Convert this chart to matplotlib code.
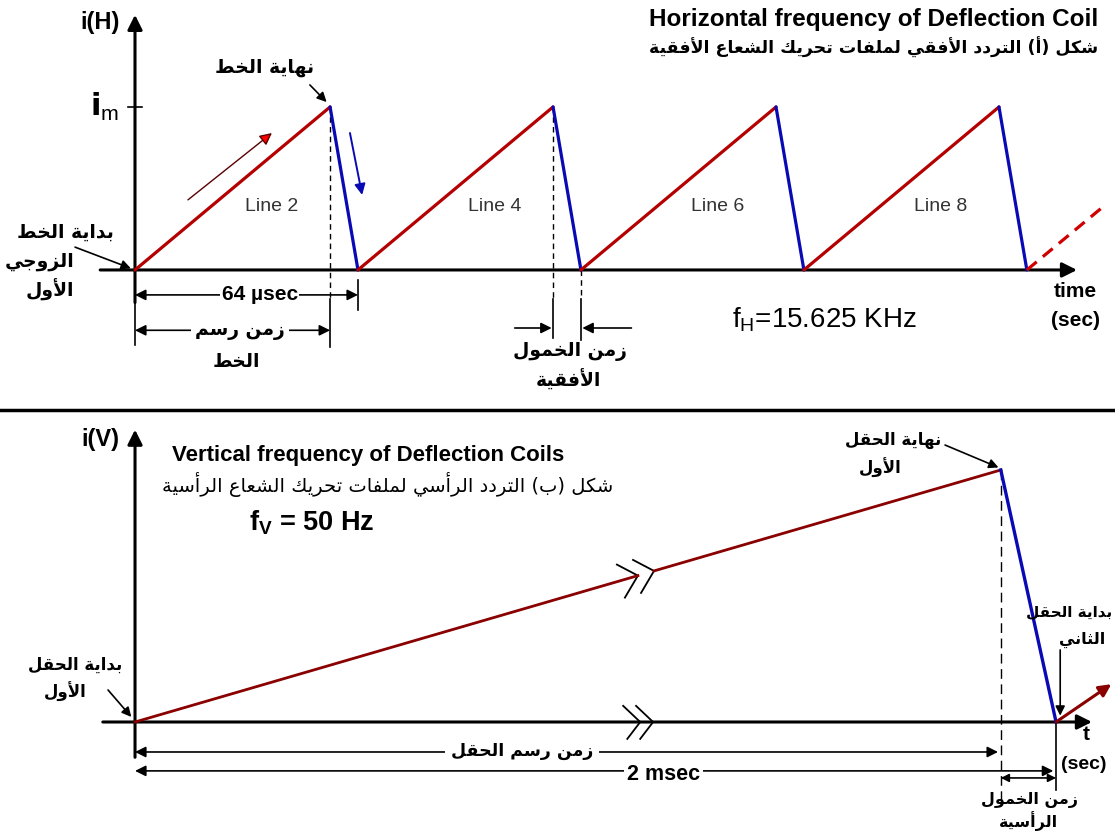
import numpy as np
import matplotlib
matplotlib.use("Agg")
import matplotlib.pyplot as plt
from matplotlib.lines import Line2D

plt.rcParams['font.family'] = ['Liberation Sans', 'DejaVu Sans']

# ---- data ----
# horizontal deflection current (time in usec, current in units of i_m)
line_t = [0, 56, 64, 120, 128, 184, 192, 248, 256]
line_i = [0, 1, 0, 1, 0, 1, 0, 1, 0]
next_line_t = [256, 278]
next_line_i = [0, 0.39]
line_names = ["Line 2", "Line 4", "Line 6", "Line 8"]
line_period = 64
line_trace = 56

# vertical deflection current (time in msec, current normalised)
field_t = [0, 18.8, 20]
field_i = [0, 1, 0]
next_field_t = [20, 21.2]
next_field_i = [0, 0.15]
break_t = [10.92, 11.27]

RED = '#b40000'
DARK_RED = '#8a0000'
BLUE = '#0a0ab4'
AR = ['DejaVu Sans']

# simple arabic shaping (presentation forms) + right-to-left ordering
FORMS = {
    'ا': ('\ufe8d', '\ufe8e', None, None), 'أ': ('\ufe83', '\ufe84', None, None),
    'ب': ('\ufe8f', '\ufe90', '\ufe91', '\ufe92'), 'ة': ('\ufe93', '\ufe94', None, None),
    'ت': ('\ufe95', '\ufe96', '\ufe97', '\ufe98'), 'ث': ('\ufe99', '\ufe9a', '\ufe9b', '\ufe9c'),
    'ج': ('\ufe9d', '\ufe9e', '\ufe9f', '\ufea0'), 'ح': ('\ufea1', '\ufea2', '\ufea3', '\ufea4'),
    'خ': ('\ufea5', '\ufea6', '\ufea7', '\ufea8'), 'د': ('\ufea9', '\ufeaa', None, None),
    'ر': ('\ufead', '\ufeae', None, None), 'ز': ('\ufeaf', '\ufeb0', None, None),
    'س': ('\ufeb1', '\ufeb2', '\ufeb3', '\ufeb4'), 'ش': ('\ufeb5', '\ufeb6', '\ufeb7', '\ufeb8'),
    'ط': ('\ufec1', '\ufec2', '\ufec3', '\ufec4'), 'ع': ('\ufec9', '\ufeca', '\ufecb', '\ufecc'),
    'ف': ('\ufed1', '\ufed2', '\ufed3', '\ufed4'), 'ق': ('\ufed5', '\ufed6', '\ufed7', '\ufed8'),
    'ك': ('\ufed9', '\ufeda', '\ufedb', '\ufedc'), 'ل': ('\ufedd', '\ufede', '\ufedf', '\ufee0'),
    'م': ('\ufee1', '\ufee2', '\ufee3', '\ufee4'), 'ن': ('\ufee5', '\ufee6', '\ufee7', '\ufee8'),
    'ه': ('\ufee9', '\ufeea', '\ufeeb', '\ufeec'), 'و': ('\ufeed', '\ufeee', None, None),
    'ي': ('\ufef1', '\ufef2', '\ufef3', '\ufef4'),
}
LAM_ALEF = {'ا': ('\ufefb', '\ufefc'), 'أ': ('\ufef7', '\ufef8')}


def joins_next(c):
    f = FORMS.get(c)
    return f is not None and f[2] is not None


def ar(txt):
    out = []
    i = 0
    n = len(txt)
    while i < n:
        c = txt[i]
        if c not in FORMS:
            out.append(c)
            i += 1
            continue
        link_prev = i > 0 and joins_next(txt[i - 1])
        if c == 'ل' and i + 1 < n and txt[i + 1] in LAM_ALEF:
            iso, fin = LAM_ALEF[txt[i + 1]]
            out.append(fin if link_prev else iso)
            i += 2
            continue
        link_next = joins_next(c) and i + 1 < n and txt[i + 1] in FORMS
        iso, fin, ini, med = FORMS[c]
        if link_prev and link_next:
            out.append(med)
        elif link_prev:
            out.append(fin)
        elif link_next:
            out.append(ini)
        else:
            out.append(iso)
        i += 1
    return ''.join(out)[::-1].translate(str.maketrans('()', ')('))


def arrow(ax, start, end, style='-|>', lw=1.2, color='black', ms=14):
    ax.annotate('', xy=end, xytext=start,
                arrowprops=dict(arrowstyle=style, lw=lw, color=color,
                                mutation_scale=ms, shrinkA=0, shrinkB=0))


fig = plt.figure(figsize=(11.15, 8.32), dpi=100)
ax1 = fig.add_axes([0, 422 / 832, 1, 410 / 832])
ax2 = fig.add_axes([0, 0, 1, 422 / 832])
for ax in (ax1, ax2):
    ax.axis('off')
ax1.set_xlim(-38.75, 281.3)
ax1.set_ylim(-0.859, 1.656)
ax2.set_xlim(-2.932, 21.28)
ax2.set_ylim(-0.4365, 1.238)

# separator between the two drawings
fig.add_artist(Line2D([0, 1], [422 / 832, 422 / 832], color='black', lw=2.5))

# ================= horizontal (line) deflection =================
arrow(ax1, (-10, 0), (270.4, 0), lw=2.2, ms=22)
arrow(ax1, (0, -0.2), (0, 1.565), lw=2.2, ms=22)
ax1.plot([0, 0], [-0.2, -0.46], color='black', lw=1.2)
ax1.plot([-2, 2], [1, 1], color='black', lw=1.2)

for k in range(len(line_t) - 1):
    up = line_i[k + 1] > line_i[k]
    ax1.plot(line_t[k:k + 2], line_i[k:k + 2], color=RED if up else BLUE,
             lw=2.3, solid_capstyle='round', zorder=3)
ax1.plot(next_line_t, next_line_i, color='#d00000', lw=2.3, ls=(0, (4, 2.5)), zorder=3)

for n, name in enumerate(line_names):
    ax1.text(line_t[2 * n] + 0.7 * line_trace, 0.39, name, ha='center', va='center',
             fontsize=14, color='#333333')

# dashed projection lines and dimension ticks
ax1.plot([line_trace, line_trace], [1, -0.18], color='black', lw=1, ls=(0, (4, 3)))
ax1.plot([line_trace, line_trace], [-0.18, -0.47], color='black', lw=1.2)
ax1.plot([line_period, line_period], [-0.06, -0.245], color='black', lw=1.2)
ax1.plot([line_t[3], line_t[3]], [1, -0.17], color='black', lw=1, ls=(0, (4, 3)))
ax1.plot([line_t[3], line_t[3]], [-0.18, -0.42], color='black', lw=1.2)
ax1.plot([line_t[4], line_t[4]], [0, -0.17], color='black', lw=1, ls=(0, (4, 3)))
ax1.plot([line_t[4], line_t[4]], [-0.18, -0.43], color='black', lw=1.2)

arrow(ax1, (0, -0.153), (line_period, -0.153), style='<|-|>', ms=16)
ax1.text(line_period * 0.56, -0.153, '64 µsec', ha='center', va='center', fontsize=15,
         fontweight='bold', bbox=dict(fc='white', ec='none', pad=1))
arrow(ax1, (0, -0.37), (line_trace, -0.37), style='<|-|>', ms=16)
ax1.text(30, -0.37, ar('زمن رسم'), ha='center', va='center', fontsize=13.5,
         fontweight='bold', family=AR, bbox=dict(fc='white', ec='none', pad=3))
ax1.text(29, -0.56, ar('الخط'), ha='center', va='center', fontsize=13.5,
         fontweight='bold', family=AR)

arrow(ax1, (109, -0.356), (line_t[3] - 0.4, -0.356), ms=16)
arrow(ax1, (142.5, -0.356), (line_t[4] + 0.4, -0.356), ms=16)
ax1.text(124.9, -0.50, ar('زمن الخمول'), ha='center', va='center', fontsize=13.5,
         fontweight='bold', family=AR)
ax1.text(124.3, -0.675, ar('الأفقية'), ha='center', va='center', fontsize=13.5,
         fontweight='bold', family=AR)

ax1.text(171.5, -0.307, r'f$_\mathregular{H}$=15.625 KHz', ha='left', va='center', fontsize=20)
ax1.text(270.0, -0.135, 'time', ha='center', va='center', fontsize=15, fontweight='bold')
ax1.text(270.0, -0.31, '(sec)', ha='center', va='center', fontsize=15, fontweight='bold')

ax1.text(-4.5, 1.52, 'i(H)', ha='right', va='center', fontsize=17, fontweight='bold')
ax1.text(-4.5, 1.0, r'$\mathbf{i}_\mathregular{m}$', ha='right', va='center', fontsize=22)

# direction arrows along trace and retrace
ax1.annotate('', xy=(39.3, 0.84), xytext=(15.2, 0.43),
             arrowprops=dict(arrowstyle='-|>', lw=1, color='#5a0000', fc='red',
                             mutation_scale=18, shrinkA=0, shrinkB=0))
ax1.annotate('', xy=(65.2, 0.46), xytext=(61.7, 0.84),
             arrowprops=dict(arrowstyle='-|>', lw=1.4, color=BLUE, fc=BLUE,
                             mutation_scale=16, shrinkA=0, shrinkB=0))

ax1.text(37.3, 1.24, ar('نهاية الخط'), ha='center', va='center', fontsize=13.5,
         fontweight='bold', family=AR)
arrow(ax1, (50.2, 1.135), (55, 1.03), ms=14)

ax1.text(-20.1, 0.233, ar('بداية الخط'), ha='center', va='center', fontsize=13.5,
         fontweight='bold', family=AR)
ax1.text(-27.3, 0.05, ar('الزوجي'), ha='center', va='center', fontsize=13.5,
         fontweight='bold', family=AR)
ax1.text(-24.4, -0.123, ar('الأول'), ha='center', va='center', fontsize=13.5,
         fontweight='bold', family=AR)
arrow(ax1, (-17.2, 0.14), (-1.2, 0.01), ms=14)

ax1.text(212, 1.534, 'Horizontal frequency of Deflection Coil', ha='center', va='center',
         fontsize=17.5, fontweight='bold')
ax1.text(212, 1.368, ar('شكل (أ) التردد الأفقي لملفات تحريك الشعاع الأفقية'),
         ha='center', va='center', fontsize=12.5, fontweight='bold', family=AR)

# ================= vertical (field) deflection =================
arrow(ax2, (-0.7, 0), (20.78, 0), lw=2.2, ms=22)
arrow(ax2, (0, -0.14), (0, 1.16), lw=2.2, ms=22)

b0 = np.interp(break_t[0], field_t[:2], field_i[:2])
b1 = np.interp(break_t[1], field_t[:2], field_i[:2])
ax2.plot([field_t[0], break_t[0]], [field_i[0], b0], color=DARK_RED, lw=2.0, zorder=3)
ax2.plot([break_t[1], field_t[1]], [b1, field_i[1]], color=DARK_RED, lw=2.0, zorder=3)
ax2.plot(field_t[1:], field_i[1:], color=BLUE, lw=2.4, zorder=3)
ax2.annotate('', xy=(next_field_t[1], next_field_i[1]), xytext=(next_field_t[0], next_field_i[0]),
             arrowprops=dict(arrowstyle='-|>', lw=2.2, color=DARK_RED,
                             mutation_scale=18, shrinkA=0, shrinkB=0))

# break marks on the ramp and on the time axis
for bt, bi in zip(break_t, (b0, b1)):
    ax2.plot([bt - 0.456, bt, bt - 0.282], [bi + 0.0437, bi, bi - 0.0873], color='black', lw=1.3)
for bt in (10.97, 11.25):
    ax2.plot([bt - 0.37, bt, bt - 0.28], [0.064, 0, -0.067], color='black', lw=1.3)

ax2.plot([field_t[1], field_t[1]], [1, -0.31], color='black', lw=1, ls=(0, (7, 4)))
ax2.plot([field_t[2], field_t[2]], [0, -0.27], color='black', lw=1.2)
ax2.plot([0, 0], [0, -0.14], color='black', lw=1.2)

arrow(ax2, (0, -0.119), (field_t[1] - 0.06, -0.119), style='<|-|>', ms=16)
ax2.text(8.4, -0.115, ar('زمن رسم الحقل'), ha='center', va='center', fontsize=12.5,
         fontweight='bold', family=AR, bbox=dict(fc='white', ec='none', pad=4))
arrow(ax2, (0, -0.194), (field_t[2] - 0.06, -0.194), style='<|-|>', ms=16)
ax2.text(11.47, -0.21, '2 msec', ha='center', va='center', fontsize=15.5, fontweight='bold',
         bbox=dict(fc='white', ec='none', pad=2))
arrow(ax2, (field_t[1], -0.222), (field_t[2], -0.222), style='<|-|>', ms=12)
ax2.text(19.43, -0.31, ar('زمن الخمول'), ha='center', va='center', fontsize=11.5,
         fontweight='bold', family=AR)
ax2.text(19.4, -0.392, ar('الرأسية'), ha='center', va='center', fontsize=11.5,
         fontweight='bold', family=AR)

ax2.text(20.65, -0.05, 't', ha='center', va='center', fontsize=15, fontweight='bold')
ax2.text(20.6, -0.17, '(sec)', ha='center', va='center', fontsize=14, fontweight='bold')
ax2.text(-0.33, 1.119, 'i(V)', ha='right', va='center', fontsize=17, fontweight='bold')

ax2.text(16.46, 1.119, ar('نهاية الحقل'), ha='center', va='center', fontsize=12,
         fontweight='bold', family=AR)
ax2.text(16.18, 1.008, ar('الأول'), ha='center', va='center', fontsize=12,
         fontweight='bold', family=AR)
arrow(ax2, (17.59, 1.099), (18.75, 1.01), ms=14)

ax2.text(21.22, 0.437, ar('بداية الحقل'), ha='right', va='center', fontsize=11,
         fontweight='bold', family=AR)
ax2.text(20.57, 0.325, ar('الثاني'), ha='center', va='center', fontsize=11.5,
         fontweight='bold', family=AR)
arrow(ax2, (20.09, 0.286), (20.09, 0.025), ms=14)

ax2.text(-1.3, 0.226, ar('بداية الحقل'), ha='center', va='center', fontsize=12,
         fontweight='bold', family=AR)
ax2.text(-1.52, 0.119, ar('الأول'), ha='center', va='center', fontsize=12,
         fontweight='bold', family=AR)
arrow(ax2, (-0.586, 0.127), (-0.08, 0.02), ms=14)

ax2.text(5.06, 1.056, 'Vertical frequency of Deflection Coils', ha='center', va='center',
         fontsize=16, fontweight='bold')
ax2.text(5.49, 0.944, ar('شكل (ب) التردد الرأسي لملفات تحريك الشعاع الرأسية'),
         ha='center', va='center', fontsize=14, family=AR)
ax2.text(3.84, 0.79, r'f$_\mathregular{V}$ = 50 Hz', ha='center', va='center',
         fontsize=19.5, fontweight='bold')

fig.savefig('out.png', dpi=100, facecolor='white')
